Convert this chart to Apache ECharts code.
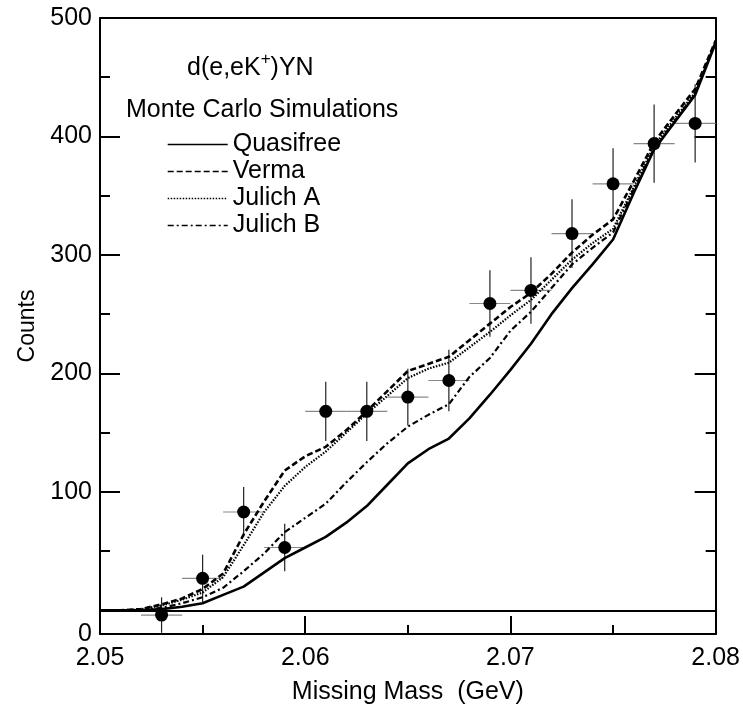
<!DOCTYPE html>
<html>
<head>
<meta charset="utf-8">
<script src="https://cdn.jsdelivr.net/npm/echarts@6/dist/echarts.min.js"></script>
<style>
html,body{margin:0;padding:0;background:#fff;}
#chart{width:743px;height:713px;}
</style>
</head>
<body>
<div id="chart"></div>
<script>
// ---- data ----
const massGrid = [2.050,2.051,2.052,2.053,2.054,2.055,2.056,2.057,2.058,2.059,2.060,2.061,2.062,2.063,2.064,2.065,2.066,2.067,2.068,2.069,2.070,2.071,2.072,2.073,2.074,2.075,2.076,2.077,2.078,2.079,2.080];
const quasifree = [0,0,0,1,3,6,13,20,32,44,53,62,74,88,106,124,136,145,162,182,203,225,250,272,292,313,352,389,412,435,479];
const verma     = [0,0,1,5,10,18,31,64,92,118,130,138,152,168,185,202,208,214,228,242,256,268,284,302,317,330,362,395,418,440,481];
const julichA   = [0,0,1,4,9,15,28,55,83,105,121,134,150,166,181,196,204,209,222,235,249,262,279,296,310,322,357,392,415,437,480];
const julichB   = [0,0,0,2,6,11,19,33,48,66,78,90,108,125,141,155,165,174,197,213,236,252,272,292,306,319,355,390,413,436,480];

const dataX    = [2.053,2.055,2.057,2.059,2.061,2.063,2.065,2.067,2.069,2.071,2.073,2.075,2.077,2.079];
const dataY    = [-4,27,83,53,168,168,180,194,259,270,318,360,394,411];
const dataErrY = [15,20,21,20,25,25,24,26,28,28,29,30,33,33];
const dataErrX = [0.001,0.001,0.001,0.001,0.001,0.001,0.001,0.001,0.001,0.001,0.001,0.001,0.001,0.001];

const xTickLabels = ['2.05','2.06','2.07','2.08'];
const yLabelValues = [-20,100,200,300,400,500];
const yLabelTexts  = ['0','100','200','300','400','500'];
const yMajorTicks = [100,200,300,400,500];
const yMinorTicks = [50,150,250,350,450];

const seriesNames = ['Quasifree','Verma','Julich A','Julich B'];

// ---- chart ----
const FONT = 'Liberation Sans';
const pair = (xs, ys) => xs.map((x, i) => [x, ys[i]]);

const chart = echarts.init(document.getElementById('chart'), null, {renderer:'canvas'});

const baseY = {
  type:'value', min:-20, max:500,
  splitLine:{show:false},
  axisLabel:{show:false},
  axisLine:{show:false},
  axisTick:{show:false}
};

const option = {
  animation:false,
  backgroundColor:'#fff',
  textStyle:{fontFamily:FONT, color:'#000'},
  grid:{left:100, right:21, top:18, bottom:79, containLabel:false},
  title:[
    {text:'{a|d(e,eK}{s|+}{a|)YN}', left:182, top:46,
     textStyle:{fontWeight:'normal',
       rich:{a:{fontSize:25, fontFamily:FONT, fontWeight:'normal', color:'#000', lineHeight:30, verticalAlign:'bottom'},
             s:{fontSize:17, fontFamily:FONT, fontWeight:'normal', color:'#000', lineHeight:30, verticalAlign:'top'}}}},
    {text:'Monte Carlo Simulations', left:121, top:93,
     textStyle:{fontSize:25, fontFamily:FONT, fontWeight:'normal', color:'#000'}}
  ],
  legend:{
    data:seriesNames, orient:'vertical', left:162, top:127,
    itemWidth:60, itemHeight:10, itemGap:2,
    textStyle:{fontSize:25, fontFamily:FONT, color:'#000', lineHeight:25, padding:[0,0,0,0]},
    lineStyle:{width:1.4},
    itemStyle:{opacity:0},
    selectedMode:false
  },
  xAxis:[
    {type:'value', min:2.05, max:2.08, interval:0.01, position:'bottom',
     name:'Missing Mass  (GeV)', nameLocation:'middle', nameGap:46,
     nameTextStyle:{fontSize:25, fontFamily:FONT, color:'#000'},
     axisLine:{show:true, onZero:false, lineStyle:{color:'#000', width:2}},
     axisTick:{show:true, inside:true, length:18, lineStyle:{color:'#000', width:2}},
     minorTick:{show:true, splitNumber:2, length:9, lineStyle:{color:'#000', width:2}},
     axisLabel:{fontSize:25, fontFamily:FONT, color:'#000', margin:12,
                formatter:(v)=>{const s=v.toFixed(2); return xTickLabels.indexOf(s)>=0?s:'';}},
     splitLine:{show:false}},
    {type:'value', min:2.05, max:2.08, position:'top',
     axisLine:{show:true, onZero:false, lineStyle:{color:'#000', width:2}},
     axisTick:{show:false}, axisLabel:{show:false}, splitLine:{show:false}}
  ],
  yAxis:[
    Object.assign({}, baseY, {
      position:'left',
      name:'Counts', nameLocation:'middle', nameGap:58, nameRotate:90,
      nameTextStyle:{fontSize:23, fontFamily:FONT, color:'#000'},
      axisLine:{show:true, onZero:false, lineStyle:{color:'#000', width:2}},
      axisTick:{show:true, inside:true, length:20, customValues:yMajorTicks, lineStyle:{color:'#000', width:2}},
      axisLabel:{show:true, fontSize:25, fontFamily:FONT, color:'#000', margin:8,
                 customValues:yLabelValues,
                 formatter:(v)=>{const i=yLabelValues.indexOf(v); return i>=0?yLabelTexts[i]:'';}}
    }),
    Object.assign({}, baseY, {
      position:'left',
      axisTick:{show:true, inside:true, length:10, customValues:yMinorTicks, lineStyle:{color:'#000', width:2}}
    }),
    Object.assign({}, baseY, {
      position:'right',
      axisLine:{show:true, onZero:false, lineStyle:{color:'#000', width:2}},
      axisTick:{show:true, inside:true, length:21, customValues:yMajorTicks, lineStyle:{color:'#000', width:2}}
    }),
    Object.assign({}, baseY, {
      position:'right',
      axisTick:{show:true, inside:true, length:10, customValues:yMinorTicks, lineStyle:{color:'#000', width:2}}
    })
  ],
  series:[
    {name:'Quasifree', type:'line', data:pair(massGrid, quasifree), symbol:'none', smooth:false,
     lineStyle:{color:'#000', width:2.6, type:'solid'}, itemStyle:{color:'#000'},
     markLine:{silent:true, symbol:['none','none'], label:{show:false},
               lineStyle:{color:'#000', width:1.8, type:'solid'},
               data:[{yAxis:0}]}},
    {name:'Verma', type:'line', data:pair(massGrid, verma), symbol:'none',
     lineStyle:{color:'#000', width:2.6, type:[6,3]}, itemStyle:{color:'#000'}},
    {name:'Julich A', type:'line', data:pair(massGrid, julichA), symbol:'none',
     lineStyle:{color:'#000', width:2.2, type:[1.5,1.5]}, itemStyle:{color:'#000'}},
    {name:'Julich B', type:'line', data:pair(massGrid, julichB), symbol:'none',
     lineStyle:{color:'#000', width:2.2, type:[6,3,2,3]}, itemStyle:{color:'#000'}},
    {name:'errors', type:'custom', clip:true,
     data:dataX.map((x,i)=>[x, dataY[i], dataErrY[i], dataErrX[i]]),
     renderItem:function(params, api){
       const x=api.value(0), y=api.value(1), ey=api.value(2), ex=api.value(3);
       const t=api.coord([x, y+ey]), b=api.coord([x, y-ey]);
       const l=api.coord([x-ex, y]), r=api.coord([x+ex, y]);
       return {type:'group', children:[
         {type:'line', shape:{x1:t[0], y1:t[1], x2:b[0], y2:b[1]}, style:{stroke:'#222', lineWidth:1.2}},
         {type:'line', shape:{x1:l[0], y1:l[1], x2:r[0], y2:r[1]}, style:{stroke:'#888', lineWidth:1.2}}
       ]};
     }},
    {name:'data', type:'scatter', data:pair(dataX, dataY), symbol:'circle', symbolSize:13,
     itemStyle:{color:'#000', opacity:1}, z:5}
  ]
};
chart.setOption(option);
</script>
</body>
</html>
